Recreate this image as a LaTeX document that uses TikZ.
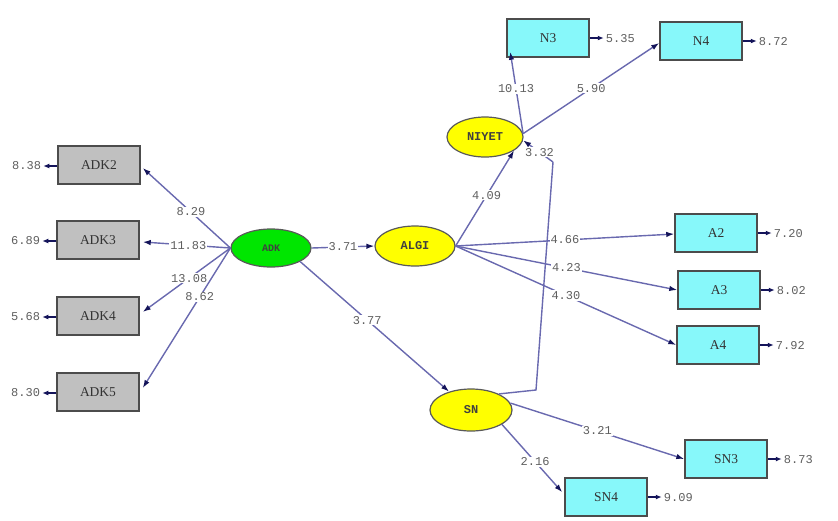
\documentclass[tikz,border=0pt]{standalone}
\usepackage{fontspec}
\setmainfont{Liberation Serif}
\newfontfamily\monofont{Liberation Mono}
\usetikzlibrary{shapes.geometric,arrows.meta,calc}
\definecolor{edgec}{RGB}{105,105,175}
\definecolor{tipc}{RGB}{20,20,90}
\definecolor{cyanbox}{RGB}{135,248,250}
\definecolor{graybox}{RGB}{192,192,192}
\definecolor{greenell}{RGB}{0,230,0}
\definecolor{yellowell}{RGB}{255,255,0}
\definecolor{numgray}{RGB}{95,95,95}
\begin{document}
\begin{tikzpicture}[x=1pt,y=-1pt,
  obs/.style={draw=black!70, line width=1.5pt, minimum width=82pt, minimum height=38pt, inner sep=0pt, text=black!80, font=\fontsize{13.5}{13.5}\selectfont},
  gbox/.style={obs, fill=graybox},
  cbox/.style={obs, fill=cyanbox},
  lat/.style={ellipse, draw=black!65, line width=1.2pt, inner sep=0pt, text=black!75, font=\monofont\fontsize{12}{12}\selectfont\bfseries},
  conn/.style={draw=edgec, line width=1.4pt, -{Latex[length=8pt,width=5.5pt,color=tipc]}},
  plain/.style={draw=edgec, line width=1.4pt},
  lbl/.style={fill=white, inner sep=1pt, text=numgray, font=\monofont\fontsize{12}{12}\selectfont},
  errl/.style={inner sep=0pt, text=numgray, font=\monofont\fontsize{12}{12}\selectfont},
  errarr/.style={draw=tipc, line width=1.6pt, -{Latex[length=6pt,width=5pt,color=tipc]}}
]
\useasboundingbox (0,0) rectangle (838,520);

% latent variables
\node[lat, fill=greenell, minimum width=80pt, minimum height=38pt, font=\monofont\fontsize{10}{10}\selectfont\bfseries] (ADK) at (271,248) {ADK};
\node[lat, fill=yellowell, minimum width=80pt, minimum height=40pt] (ALGI) at (415,246) {ALGI};
\node[lat, fill=yellowell, minimum width=76pt, minimum height=40pt] (NIYET) at (485,137) {NIYET};
\node[lat, fill=yellowell, minimum width=82pt, minimum height=42pt] (SN) at (471,410) {SN};

% observed variables
\node[gbox] (ADK2) at (99,165) {ADK2};
\node[gbox] (ADK3) at (98,240) {ADK3};
\node[gbox] (ADK4) at (98,316) {ADK4};
\node[gbox] (ADK5) at (98,392) {ADK5};
\node[cbox] (N3) at (548,38) {N3};
\node[cbox] (N4) at (701,41) {N4};
\node[cbox] (A2) at (716,233) {A2};
\node[cbox] (A3) at (719,290) {A3};
\node[cbox] (A4) at (718,345) {A4};
\node[cbox] (SN3) at (726,459) {SN3};
\node[cbox] (SN4) at (606,497) {SN4};

% ADK measurement paths
\draw[conn] (ADK.west) -- node[lbl, pos=0.45] {8.29} ($(ADK2.east)+(2,3)$);
\draw[conn] (ADK.west) -- node[lbl, pos=0.48] {11.83} ($(ADK3.east)+(3,2)$);
\draw[conn] (ADK.west) -- node[lbl, pos=0.47] {13.08} ($(ADK4.east)+(3,-4)$);
\draw[conn] (ADK.west) -- node[lbl, pos=0.35] {8.62} ($(ADK5.east)+(3,-4)$);

% structural paths
\draw[conn] (ADK.east) -- node[lbl] {3.71} (ALGI.west);
\draw[conn] (ADK.-25) -- node[lbl, pos=0.45] {3.77} (SN.140);
\draw[conn] (ALGI.east) -- node[lbl, pos=0.53] {4.09} (NIYET.-25);
\coordinate (b1) at (536,390);
\coordinate (b2) at (553,162);
\draw[plain] (SN.30) -- (b1) -- (b2);
\draw[conn] (b2) -- node[lbl, pos=0.45] {3.32} (NIYET.-5);

% NIYET measurement
\draw[conn] (NIYET.5) -- node[lbl, pos=0.55] {10.13} ($(N3.south west)+(4,-6)$);
\draw[conn] (NIYET.5) -- node[lbl, pos=0.5] {5.90} ($(N4.west)+(0,2)$);

% ALGI measurement
\draw[conn] (ALGI.east) -- node[lbl, pos=0.5] {4.66} ($(A2.west)+(0,1)$);
\draw[conn] (ALGI.east) -- node[lbl, pos=0.5] {4.23} (A3.west);
\draw[conn] (ALGI.east) -- node[lbl, pos=0.5] {4.30} (A4.west);

% SN measurement
\draw[conn] (SN.10) -- node[lbl, pos=0.5] {3.21} (SN3.west);
\draw[conn] (SN.-25) -- node[lbl, pos=0.55] {2.16} ($(SN4.north west)+(-2,15)$);

% error terms
\foreach \n/\v in {ADK2/8.38, ADK3/6.89, ADK4/5.68, ADK5/8.30}{
  \coordinate (e\n) at ($(\n.west)+(-14,1)$);
  \draw[errarr] ($(\n.west)+(0,1)$) -- (e\n);
  \node[errl, anchor=east] at ($(e\n)+(-2,0)$) {\v};
}
\foreach \n/\v in {N3/5.35, N4/8.72, A2/7.20, A3/8.02, A4/7.92, SN3/8.73, SN4/9.09}{
  \coordinate (e\n) at ($(\n.east)+(14,0)$);
  \draw[errarr] (\n.east) -- (e\n);
  \node[errl, anchor=west] at ($(e\n)+(2,1)$) {\v};
}
\end{tikzpicture}
\end{document}
